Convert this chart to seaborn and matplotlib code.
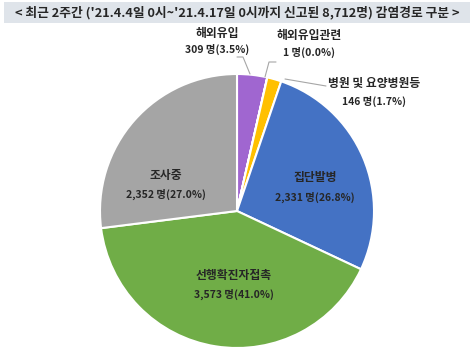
import matplotlib
matplotlib.use("Agg")
import matplotlib.pyplot as plt
import seaborn as sns
from matplotlib.patches import Rectangle

sns.set_theme(style="white")
plt.rcParams['font.family'] = ['Noto Sans CJK KR', 'DejaVu Sans']

categories = ["해외유입", "해외유입관련", "병원 및 요양병원등", "집단발병", "선행확진자접촉", "조사중"]
counts = [309, 1, 146, 2331, 3573, 2352]
percents = ["3.5%", "0.0%", "1.7%", "26.8%", "41.0%", "27.0%"]
colors = ["#a066d0", "#ed7d31", "#ffc000", "#4472c4", "#70ad47", "#a5a5a5"]
title = "< 최근 2주간 ('21.4.4일 0시~'21.4.17일 0시까지 신고된 8,712명) 감염경로 구분 >"

W, H = 474, 363
fig = plt.figure(figsize=(W / 100, H / 100), dpi=100)

# pie drawn in a y-up axes with 1 unit = 1 pixel
pax = fig.add_axes([0, 0, 1, 1])
cx, cy, r = 237, H - 211, 137
pax.pie(counts, colors=colors, startangle=90, counterclock=False,
        center=(cx, cy), radius=r,
        wedgeprops=dict(edgecolor='white', linewidth=1.5))
pax.set_xlim(0, W)
pax.set_ylim(0, H)
pax.set_aspect('equal')
pax.axis('off')

# overlay axes in pixel coords (y down) for text and leader lines
ax = fig.add_axes([0, 0, 1, 1])
ax.set_zorder(2)
ax.patch.set_alpha(0)
ax.set_xlim(0, W)
ax.set_ylim(H, 0)
ax.axis('off')

# title band
ax.add_patch(Rectangle((4, 2), W - 8, 21, facecolor="#dfe4ea", edgecolor="none", zorder=3))
ax.text(W / 2, 12.5, title, ha='center', va='center', fontsize=9.2, fontweight='bold',
        color="#262626", zorder=4)

def lab(x, y, i, name_dy=18):
    ax.text(x, y, categories[i], ha='center', va='center', fontsize=8.5,
            fontweight='bold', color="#262626", zorder=5)
    ax.text(x, y + name_dy, f"{counts[i]:,} 명({percents[i]})", ha='center', va='center',
            fontsize=7.5, fontweight='bold', color="#262626", zorder=5)

lab(217, 33, 0, 16)
lab(309, 35, 1, 17)
lab(374, 84, 2, 17)
lab(315, 178, 3, 19)
lab(234, 275, 4, 19)
lab(166, 176, 5, 18)

lc = "#a6a6a6"
ax.plot([237, 243, 250], [57, 57, 74], color=lc, lw=0.8, zorder=5)
ax.plot([276, 269, 265], [62, 62, 77], color=lc, lw=0.8, zorder=5)
ax.plot([326, 285], [86, 79], color=lc, lw=0.8, zorder=5)

fig.savefig("out.png", dpi=100)
